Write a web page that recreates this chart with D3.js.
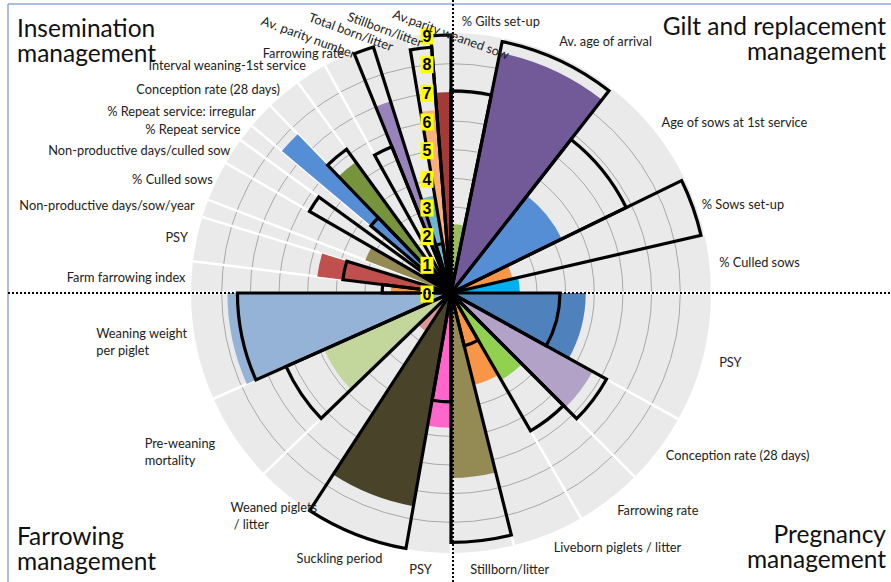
<!DOCTYPE html>
<html><head><meta charset="utf-8">
<script src="https://cdn.jsdelivr.net/npm/d3@7"></script>
<style>body{margin:0;background:#fff;overflow:hidden} svg{display:block}</style>
</head><body><svg id="c" width="891" height="582"></svg>
<script>
// ---------------- DATA ----------------
const sectionTitles = [
  ["Gilt and replacement", "management"],
  ["Pregnancy", "management"],
  ["Farrowing", "management"],
  ["Insemination", "management"]
];
const metrics = [
  "% Gilts set-up", "Av. age of arrival", "Age of sows at 1st service", "% Sows set-up", "% Culled sows",
  "PSY", "Conception rate (28 days)", "Farrowing rate", "Liveborn piglets / litter", "Stillborn/litter",
  "PSY", "Suckling period", "Weaned piglets\n / litter", "Pre-weaning\nmortality", "Weaning weight\nper piglet",
  "Farm farrowing index", "PSY", "Non-productive days/sow/year", "% Culled sows", "Non-productive days/culled sow",
  "% Repeat service", "% Repeat service: irregular", "Conception rate (28 days)", "Interval weaning-1st service",
  "Farrowing rate", "Av. parity number", "Total born/litter", "Stillborn/litter", "Av.parity weaned sow"
];
// angular share of each sector (degrees, sums to 360)
const spans = [11.5, 26.5, 26, 13, 13,
  29, 16, 15, 16, 14,
  10, 23, 13, 20, 24,
  7, 10, 4, 9, 6, 4, 6, 8, 7, 7, 4.5, 8, 5, 4.5];
// farm value (coloured fill)
const actual = [2.4, 8.55, 4.3, 2.2, 2.4,
  4.7, 5.65, 3.5, 3.3, 6.45,
  4.7, 7.55, 1.6, 4.85, 7.8,
  2.1, 4.7, 0.8, 3.2, 0.6, 0.6, 7.7, 5.65, 0.8, 0.8, 7.0, 3.45, 6.4, 7.0];
// reference value (black outline), null = none
const target = [7.05, 8.95, 6.8, 8.95, null,
  3.8, 6.2, 5.55, 1.9, 8.7,
  3.8, 9.05, null, 6.3, 7.45,
  2.4, 3.8, null, null, 5.7, null, 3.65, 6.2, null, 5.5, 9.0, 1.75, 8.6, 9.0];
const scaleTicks = [0, 1, 2, 3, 4, 5, 6, 7, 8, 9];

// ---------------- STYLE ----------------
const colors = ["#9BBB59", "#725A98", "#558ED5", "#F79646", "#00B0F0",
  "#4F81BD", "#B3A2C7", "#92D050", "#F79646", "#948A54",
  "#FF66CC", "#494429", "#D99694", "#C3D69B", "#95B3D7",
  "#F79646", "#C0504D", "#4F6228", "#948A54", "#7F7F7F", "#A5A5A5", "#558ED5", "#77933C", "#31859C",
  "#92D050", "#9983BC", "#6DB6D1", "#FAB07A", "#A33A36"];
// label layout tweaks: [angle nudge deg, radius, anchor, rotation]
const labelLayout = {
  0: [-3.5, 272], 1: [-1.5, 274], 2: [0, 271], 3: [0, 266], 4: [0, 270],
  5: [0, 277], 6: [0, 269], 7: [0, 273], 8: [0, 274], 9: [3, 277, "start"],
  10: [-1, 277], 11: [-7, 274], 12: [-8.5, 259], 13: [0, 284], 14: [1.5, 268],
  15: [0, 266], 16: [0, 269], 17: [0, 271], 18: [0, 264], 19: [0, 263], 20: [0, 267],
  21: [0, 267], 22: [0, 266], 23: [0, 270], 24: [1.5, 263],
  25: [-9.3, 293, "middle", 20], 26: [-7.4, 280, "middle", 20], 27: [-7, 272, "middle", 20], 28: [2.25, 259, "middle", 20]
};

const W = 891, H = 582, cx = 451, cy = 293;
const svg = d3.select("#c");
const FONT = "Lato, 'Open Sans', sans-serif";

// frame
svg.append("line").attr("x1", 8).attr("x2", W).attr("y1", 4).attr("y2", 4).attr("stroke", "#8EAADB").attr("stroke-width", 1.5);
svg.append("line").attr("x1", 8).attr("x2", 8).attr("y1", 4).attr("y2", H).attr("stroke", "#8EAADB").attr("stroke-width", 1.5);

const rScale = d3.scaleLinear().domain([0, d3.max(scaleTicks)]).range([0, 258]);
const aScale = d3.scaleLinear().domain([0, 360]).range([0, 2 * Math.PI]);
const outerR = rScale(d3.max(scaleTicks)) + 2;

let acc = 0;
const sectors = metrics.map((m, i) => {
  const s = acc; acc += spans[i];
  return { i, label: m, a0: s, a1: acc, actual: actual[i], target: target[i], color: colors[i] };
});

const g = svg.append("g").attr("transform", `translate(${cx},${cy})`);
const arc = d3.arc().innerRadius(0);

// grey background per sector
g.selectAll("path.bg").data(sectors).join("path")
  .attr("d", d => arc({ startAngle: aScale(d.a0), endAngle: aScale(d.a1), outerRadius: outerR }))
  .attr("fill", "#EAEAEA");
// rings
g.selectAll("circle.ring").data(scaleTicks.filter(t => t > 0 && t < d3.max(scaleTicks))).join("circle")
  .attr("r", d => rScale(d)).attr("fill", "none").attr("stroke", "#A8A8A8").attr("stroke-width", 1);
// white separators
g.selectAll("line.sep").data(sectors).join("line")
  .attr("x1", 0).attr("y1", 0)
  .attr("x2", d => outerR * Math.sin(aScale(d.a0)))
  .attr("y2", d => -outerR * Math.cos(aScale(d.a0)))
  .attr("stroke", "#fff").attr("stroke-width", 2.5);

// fills
g.selectAll("path.fill").data(sectors).join("path")
  .attr("d", d => arc({ startAngle: aScale(d.a0), endAngle: aScale(d.a1), outerRadius: rScale(d.actual) }))
  .attr("fill", d => d.color);
// outlines
g.selectAll("path.out").data(sectors.filter(d => d.target != null)).join("path")
  .attr("d", d => arc({ startAngle: aScale(d.a0), endAngle: aScale(d.a1), outerRadius: rScale(d.target) }))
  .attr("fill", "none").attr("stroke", "#000").attr("stroke-width", 3.2).attr("stroke-linejoin", "miter");

// dotted quadrant lines
svg.append("line").attr("x1", 8).attr("x2", W).attr("y1", cy).attr("y2", cy)
  .attr("stroke", "#000").attr("stroke-width", 2).attr("stroke-dasharray", "2,2");
svg.append("line").attr("x1", cx + 2).attr("x2", cx + 2).attr("y1", 0).attr("y2", H)
  .attr("stroke", "#000").attr("stroke-width", 2).attr("stroke-dasharray", "2,2");

// yellow scale labels
const ticksG = g.selectAll("g.tick").data(scaleTicks).join("g")
  .attr("transform", d => `translate(-24,${-rScale(d) + 1})`);
ticksG.append("rect").attr("x", -6.5).attr("y", -8.5).attr("width", 13).attr("height", 17).attr("fill", "#FFFF00");
ticksG.append("text").text(d => d).attr("text-anchor", "middle").attr("dy", "0.36em")
  .attr("font-family", "'Liberation Sans', Arial, sans-serif").attr("font-weight", "bold").attr("font-size", 16).attr("fill", "#000");

// category labels
function polar(deg, r) { const a = aScale(deg); return [cx + r * Math.sin(a), cy - r * Math.cos(a)]; }
sectors.forEach(d => {
  const lay = labelLayout[d.i] || [0, 270];
  const mid = (d.a0 + d.a1) / 2 + lay[0];
  const [x, y] = polar(mid, lay[1]);
  const anchor = lay[2] || (mid < 180 ? "start" : "end");
  const lines = d.label.split("\n");
  const t = svg.append("text").attr("font-family", FONT).attr("font-size", 12.8).attr("fill", "#222");
  if (lines.length === 1) {
    t.attr("x", x).attr("y", y).attr("text-anchor", anchor).attr("dominant-baseline", "central").text(d.label);
    if (lay[3]) t.attr("transform", `rotate(${lay[3]},${x},${y})`);
  } else {
    lines.forEach((ln, k) => t.append("tspan").attr("x", 0).attr("y", k * 17).attr("xml:space", "preserve").text(ln));
    t.attr("dominant-baseline", "central").style("white-space", "pre");
    const bb = t.node().getBBox();
    const dx = anchor === "end" ? x - (bb.x + bb.width) : x - bb.x;
    const dy = y - (bb.y + bb.height / 2);
    t.attr("transform", `translate(${dx},${dy})`);
  }
});

// quadrant titles (each line its own text element)
const titlePos = [
  { x: 886, y: 35, anchor: "end" },
  { x: 886, y: 543, anchor: "end" },
  { x: 17, y: 545, anchor: "start" },
  { x: 17, y: 37, anchor: "start" }
];
sectionTitles.forEach((lines, k) => {
  const p = titlePos[k];
  lines.forEach((ln, j) => svg.append("text").attr("font-family", FONT).attr("font-size", 24.5).attr("fill", "#111")
    .attr("text-anchor", p.anchor).attr("x", p.x).attr("y", p.y + j * 25).text(ln));
});
</script>
</body></html>
